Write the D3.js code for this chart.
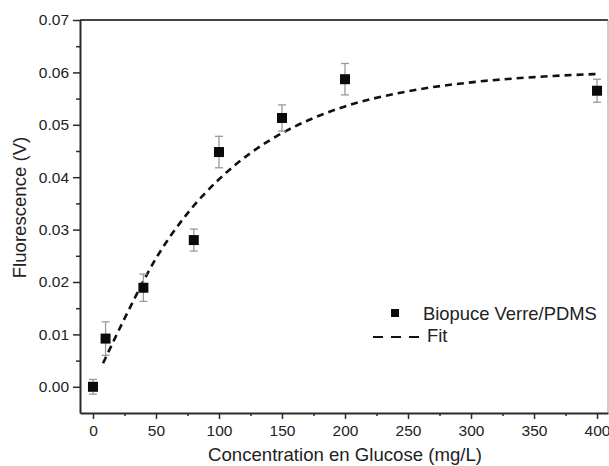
<!DOCTYPE html>
<html>
<head>
<meta charset="utf-8">
<script src="https://cdn.jsdelivr.net/npm/d3@7"></script>
<style>
  html, body { margin: 0; padding: 0; background: #fff; }
  svg { display: block; font-family: "Liberation Sans", Arial, sans-serif; }
</style>
</head>
<body>
<svg id="chart" width="609" height="466"></svg>
<script>
// Measured glucose concentrations (mg/L)
const concentrations = [0, 10, 40, 80, 100, 150, 200, 400];
// Fluorescence signal (V) and its standard deviation
const fluorescence = [0.0000, 0.0092, 0.0189, 0.0280, 0.0448, 0.0513, 0.0587, 0.0565];
const fluoError = [0.0014, 0.0032, 0.0026, 0.0021, 0.0030, 0.0025, 0.0030, 0.0022];

// Fitted saturation curve, sampled along the concentration axis
const fitX = [8, 25, 50, 75, 100, 125, 150, 175, 200, 250, 300, 350, 400];
const fitY = [0.0045, 0.0130, 0.0245, 0.0331, 0.0396, 0.0446, 0.0484, 0.0513, 0.0535, 0.0564, 0.0581, 0.0591, 0.0597];

const xTicks = [0, 50, 100, 150, 200, 250, 300, 350, 400];
const yTicks = [0.00, 0.01, 0.02, 0.03, 0.04, 0.05, 0.06, 0.07];

const seriesLabel = "Biopuce Verre/PDMS";
const fitLabel = "Fit";
const xTitle = "Concentration en Glucose (mg/L)";
const yTitle = "Fluorescence (V)";

const svg = d3.select("#chart");
const plot = { left: 80, right: 608, top: 20, bottom: 413 };

const x = d3.scaleLinear().domain([-10.3, 408.7]).range([plot.left, plot.right]);
const y = d3.scaleLinear().domain([-0.005, 0.07]).range([plot.bottom, plot.top]);

const axisColor = "#2a2a2a";
const textColor = "#222";

// Frame: top and right borders
svg.append("line")
  .attr("x1", plot.left).attr("x2", plot.right)
  .attr("y1", plot.top).attr("y2", plot.top)
  .attr("stroke", "#444").attr("stroke-width", 2);
svg.append("line")
  .attr("x1", plot.right).attr("x2", plot.right)
  .attr("y1", plot.top).attr("y2", plot.bottom)
  .attr("stroke", "#999").attr("stroke-width", 1);

// Minor ticks
const xMinor = d3.range(25, 400, 50);
const yMinor = d3.range(-0.005, 0.07, 0.01).map(v => +v.toFixed(3));

const xAxisMinor = d3.axisBottom(x).tickValues(xMinor).tickSize(3).tickFormat("");
const yAxisMinor = d3.axisLeft(y).tickValues(yMinor.filter(v => v > -0.005)).tickSize(4).tickFormat("");

svg.append("g").attr("transform", `translate(0,${plot.bottom})`).call(xAxisMinor)
  .call(g => g.select(".domain").remove())
  .call(g => g.selectAll("line").attr("stroke", axisColor).attr("stroke-width", 1.5));
svg.append("g").attr("transform", `translate(${plot.left},0)`).call(yAxisMinor)
  .call(g => g.select(".domain").remove())
  .call(g => g.selectAll("line").attr("stroke", axisColor).attr("stroke-width", 1.5));

// Major axes
const xAxis = d3.axisBottom(x).tickValues(xTicks).tickSize(6).tickSizeOuter(0).tickPadding(6)
  .tickFormat(d3.format("d"));
const yAxis = d3.axisLeft(y).tickValues(yTicks).tickSize(7).tickSizeOuter(0).tickPadding(4)
  .tickFormat(d3.format(".2f"));

svg.append("g").attr("transform", `translate(0,${plot.bottom})`).call(xAxis)
  .call(g => g.select(".domain").attr("stroke", axisColor).attr("stroke-width", 2))
  .call(g => g.selectAll(".tick line").attr("stroke", axisColor).attr("stroke-width", 1.5))
  .call(g => g.selectAll("text").attr("fill", textColor).attr("font-size", 15.5)
    .attr("font-family", "Liberation Sans, Arial, sans-serif"));

svg.append("g").attr("transform", `translate(${plot.left},0)`).call(yAxis)
  .call(g => g.select(".domain").attr("stroke", axisColor).attr("stroke-width", 2))
  .call(g => g.selectAll(".tick line").attr("stroke", axisColor).attr("stroke-width", 1.5))
  .call(g => g.selectAll("text").attr("fill", textColor).attr("font-size", 15.5)
    .attr("font-family", "Liberation Sans, Arial, sans-serif"));

// Axis titles
svg.append("text")
  .attr("x", (plot.left + plot.right) / 2 + 1).attr("y", 461)
  .attr("text-anchor", "middle").attr("font-size", 18.6).attr("fill", textColor)
  .text(xTitle);
svg.append("text")
  .attr("transform", `translate(26,${(plot.top + plot.bottom) / 2 - 9}) rotate(-90)`)
  .attr("text-anchor", "middle").attr("font-size", 18.6).attr("fill", textColor)
  .text(yTitle);

// Fit curve
const fitData = fitX.map((v, i) => [v, fitY[i]]);
svg.append("path")
  .datum(fitData)
  .attr("fill", "none")
  .attr("stroke", "#111")
  .attr("stroke-width", 2.6)
  .attr("stroke-dasharray", "7,5")
  .attr("d", d3.line().x(d => x(d[0])).y(d => y(d[1])).curve(d3.curveMonotoneX));

// Error bars
const points = concentrations.map((c, i) => ({ c, v: fluorescence[i], e: fluoError[i] }));
const err = svg.append("g").attr("stroke", "#9a9a9a").attr("stroke-width", 1.3);
points.forEach(p => {
  const cx = x(p.c);
  err.append("line").attr("x1", cx).attr("x2", cx).attr("y1", y(p.v - p.e)).attr("y2", y(p.v + p.e));
  err.append("line").attr("x1", cx - 4).attr("x2", cx + 4).attr("y1", y(p.v + p.e)).attr("y2", y(p.v + p.e));
  err.append("line").attr("x1", cx - 4).attr("x2", cx + 4).attr("y1", y(p.v - p.e)).attr("y2", y(p.v - p.e));
});

// Data markers
const ms = 10;
svg.append("g").selectAll("rect").data(points).join("rect")
  .attr("x", d => x(d.c) - ms / 2).attr("y", d => y(d.v) - ms / 2)
  .attr("width", ms).attr("height", ms)
  .attr("fill", "#0a0a0a");

// Legend
const leg = svg.append("g");
leg.append("rect").attr("x", 391).attr("y", 309).attr("width", 8).attr("height", 8).attr("fill", "#0a0a0a");
leg.append("text").attr("x", 423).attr("y", 320).attr("font-size", 18.4).attr("fill", textColor).text(seriesLabel);
leg.append("line").attr("x1", 373).attr("x2", 419).attr("y1", 337).attr("y2", 337)
  .attr("stroke", "#111").attr("stroke-width", 2).attr("stroke-dasharray", "10,8");
leg.append("text").attr("x", 427).attr("y", 342).attr("font-size", 18.4).attr("fill", textColor).text(fitLabel);
</script>
</body>
</html>
